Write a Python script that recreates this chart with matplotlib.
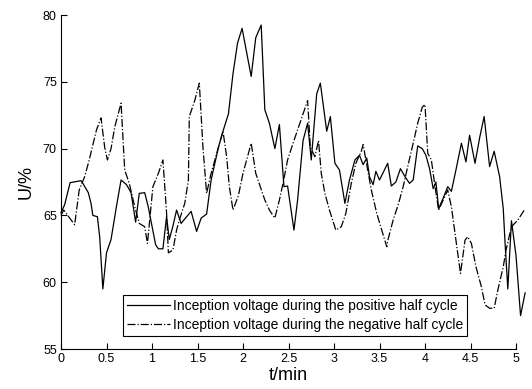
import matplotlib
matplotlib.use("Agg")
import matplotlib.pyplot as plt

# positive half cycle (solid)
t_pos = [0.00, 0.04, 0.10, 0.22, 0.24, 0.30, 0.33, 0.35, 0.40, 0.425, 0.46, 0.50,
         0.55, 0.61, 0.66, 0.72, 0.77, 0.82, 0.86, 0.92, 0.96, 1.00, 1.04, 1.07,
         1.12, 1.16, 1.19, 1.23, 1.27, 1.32, 1.38, 1.43, 1.49, 1.54, 1.60, 1.65,
         1.73, 1.78, 1.84, 1.89, 1.94, 1.99, 2.09, 2.14, 2.20, 2.24, 2.29, 2.35,
         2.40, 2.45, 2.49, 2.56, 2.60, 2.66, 2.71, 2.75, 2.81, 2.85, 2.92, 2.96,
         3.01, 3.06, 3.12, 3.17, 3.23, 3.28, 3.32, 3.36, 3.39, 3.43, 3.46, 3.50,
         3.54, 3.59, 3.63, 3.68, 3.73, 3.78, 3.83, 3.87, 3.92, 3.97, 4.01, 4.05,
         4.09, 4.12, 4.15, 4.20, 4.25, 4.29, 4.34, 4.40, 4.45, 4.49, 4.55, 4.60,
         4.65, 4.71, 4.76, 4.82, 4.86, 4.88, 4.91, 4.95, 5.00, 5.05, 5.10]
u_pos = [65.2, 65.8, 67.45, 67.6, 67.4, 66.7, 65.9, 65.0, 64.9, 63.4, 59.5, 62.2,
         63.2, 65.7, 67.65, 67.3, 66.7, 64.5, 66.65, 66.7, 65.6, 64.2, 62.8, 62.5,
         62.5, 64.9, 63.2, 64.2, 65.4, 64.4, 64.9, 65.3, 63.8, 64.8, 65.1, 67.65,
         70.1, 71.3, 72.6, 75.6, 77.9, 79.0, 75.4, 78.3, 79.25, 72.9, 71.9, 70.0,
         71.8, 67.15, 67.2, 63.9, 66.15, 70.6, 71.9, 69.15, 74.1, 74.9, 71.3, 72.4,
         68.9, 68.4, 65.9, 67.65, 69.15, 69.5, 68.8, 69.3, 67.9, 67.3, 68.3, 67.65,
         68.2, 68.9, 67.2, 67.5, 68.5, 67.9, 67.4, 67.65, 70.2, 70.0, 69.5, 68.5,
         67.0, 67.5, 65.5, 66.3, 67.15, 66.8, 68.4, 70.4, 69.0, 71.0, 68.9, 70.8,
         72.4, 68.65, 69.8, 67.9, 65.5, 62.9, 59.5, 64.6, 62.0, 57.5, 59.2]

# negative half cycle (dash-dot)
t_neg = [0.00, 0.03, 0.15, 0.20, 0.26, 0.31, 0.39, 0.44, 0.48, 0.51, 0.55, 0.59,
         0.66, 0.70, 0.75, 0.81, 0.86, 0.92, 0.95, 1.01, 1.07, 1.12, 1.16, 1.18,
         1.23, 1.27, 1.30, 1.36, 1.40, 1.41, 1.47, 1.52, 1.56, 1.60, 1.65, 1.73,
         1.78, 1.82, 1.85, 1.89, 1.95, 2.00, 2.09, 2.14, 2.24, 2.29, 2.35, 2.40,
         2.44, 2.49, 2.55, 2.60, 2.66, 2.71, 2.74, 2.79, 2.83, 2.86, 2.90, 2.95,
         3.02, 3.08, 3.13, 3.19, 3.24, 3.30, 3.32, 3.36, 3.41, 3.47, 3.52, 3.58,
         3.59, 3.65, 3.71, 3.76, 3.81, 3.87, 3.92, 3.97, 4.00, 4.03, 4.07, 4.11,
         4.15, 4.20, 4.25, 4.29, 4.33, 4.39, 4.44, 4.47, 4.51, 4.56, 4.62, 4.66,
         4.71, 4.76, 4.80, 4.86, 4.89, 4.95, 5.02, 5.10]
u_neg = [65.0, 65.4, 64.3, 66.9, 67.9, 69.15, 71.4, 72.3, 70.1, 69.15, 70.0, 71.6,
         73.4, 68.4, 67.4, 65.65, 64.4, 64.15, 62.9, 67.15, 68.15, 69.15, 65.2, 62.2,
         62.4, 63.9, 64.65, 65.9, 67.65, 72.4, 73.6, 74.9, 70.1, 66.65, 68.15, 70.1,
         71.3, 69.4, 67.15, 65.4, 66.5, 68.15, 70.4, 68.15, 66.15, 65.4, 64.8, 66.15,
         67.4, 69.15, 70.4, 71.4, 72.6, 73.6, 70.1, 69.4, 70.6, 68.15, 66.65, 65.4,
         63.9, 64.15, 65.15, 67.4, 68.9, 69.8, 70.3, 68.8, 66.9, 65.15, 64.0, 62.65,
         63.1, 64.65, 65.9, 67.15, 68.65, 70.4, 71.9, 73.1, 73.3, 69.65, 69.15, 67.15,
         65.4, 66.15, 66.9, 65.65, 63.65, 60.65, 63.15, 63.4, 62.9, 61.15, 59.65, 58.3,
         58.05, 58.05, 59.4, 61.15, 62.4, 64.15, 64.65, 65.5]

labels = ["Inception voltage during the positive half cycle",
          "Inception voltage during the negative half cycle"]

plt.rcParams['font.family'] = ['Liberation Sans', 'DejaVu Sans']

fig = plt.figure(figsize=(5.32, 3.89), dpi=100)
ax = fig.add_axes([61 / 532, 40 / 389, 455 / 532, 334 / 389])

ax.plot(t_pos, u_pos, color='black', lw=0.9, ls='-', label=labels[0], clip_on=False)
ax.plot(t_neg, u_neg, color='black', lw=0.9, ls='-.', label=labels[1], clip_on=False)

ax.set_xlim(0, 5)
ax.set_ylim(55, 80)
ax.set_xticks([0, 0.5, 1, 1.5, 2, 2.5, 3, 3.5, 4, 4.5, 5])
ax.set_xticklabels(['0', '0.5', '1', '1.5', '2', '2.5', '3', '3.5', '4', '4.5', '5'])
ax.set_yticks([55, 60, 65, 70, 75, 80])
ax.tick_params(direction='in', length=4, width=0.8, labelsize=9, pad=3)
ax.spines['top'].set_visible(False)
ax.spines['right'].set_visible(False)

ax.set_xlabel('t/min', fontsize=13, labelpad=1)
ax.set_ylabel('U/%', fontsize=13, labelpad=6)

leg = ax.legend(loc='upper left', bbox_to_anchor=(123 / 532, 1 - 295 / 389),
                bbox_transform=fig.transFigure, fontsize=10, fancybox=False,
                edgecolor='black', framealpha=1, handlelength=3.1,
                borderaxespad=0, borderpad=0.3, labelspacing=0.35, handletextpad=0.2)
leg.get_frame().set_linewidth(0.8)

fig.savefig('out.png', dpi=100)
